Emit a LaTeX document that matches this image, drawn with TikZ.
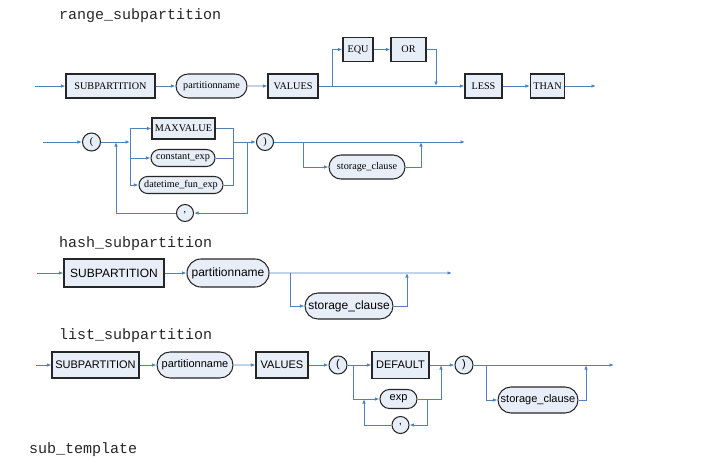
\documentclass[tikz,border=0pt]{standalone}
\usepackage{fontspec}
\setmainfont{Liberation Serif}
\newfontfamily\sansf{Liberation Sans}
\newfontfamily\monof{Liberation Mono}
\usetikzlibrary{arrows.meta,shapes.misc}
\definecolor{lnblue}{HTML}{4F81BD}
\definecolor{boxfill}{HTML}{E8EEF8}
\definecolor{boxdraw}{HTML}{262626}
\tikzset{
  base/.style={draw=boxdraw,fill=boxfill,line width=1.05pt,inner sep=0pt,text=black},
  kbox/.style={base,rectangle},
  rbox/.style={base,rounded rectangle},
  cbox/.style={base,circle},
  serifsm/.style={font=\fontsize{10.2}{12}\selectfont},
  sanshash/.style={font=\sansf\fontsize{12}{14}\selectfont},
  sanslist/.style={font=\sansf\fontsize{11}{13}\selectfont},
  ttl/.style={anchor=west,inner sep=0pt,text=black!85,font=\monof\fontsize{15}{17}\selectfont},
  ln/.style={draw=lnblue,line width=0.9pt},
  ar/.style={ln,-{Latex[length=4.5pt,width=3.5pt]}},
}
\begin{document}
\begin{tikzpicture}[x=1pt,y=-1pt]
\useasboundingbox (0,0) rectangle (709,458);

% ---------- titles
\node[ttl] (t1) at (59,16) {range\_subpartition};
\node[ttl] (t2) at (59,244) {hash\_subpartition};
\node[ttl] (t3) at (59,336) {list\_subpartition};
\node[ttl] (t4) at (29,450) {sub\_template};

% ---------- range row 1
\begin{scope}[serifsm]
\coordinate (s1) at (35,86);
\node[kbox,minimum width=89,minimum height=24] (sp1) at (110.5,86) {SUBPARTITION};
\node[rbox,minimum width=71,minimum height=24] (pn1) at (211.5,86) {partitionname};
\node[kbox,minimum width=50,minimum height=24] (val1) at (293,86) {VALUES};
\node[kbox,minimum width=30,minimum height=24] (equ) at (358,49.5) {EQU};
\node[kbox,minimum width=35,minimum height=24] (or) at (408.5,49.5) {OR};
\node[kbox,minimum width=37,minimum height=24] (less) at (483.5,86) {LESS};
\node[kbox,minimum width=34,minimum height=24] (than) at (547.5,86) {THAN};
\coordinate (e1) at (596,86);
\coordinate (b1) at (332,86);
\coordinate (m1) at (436,86);
\end{scope}
\draw[ar] (s1) -- (sp1);
\draw[ar] (sp1) -- (pn1);
\draw[ar] (pn1) -- (val1);
\draw[ar] (val1) -- (less);
\draw[ar] (b1) |- (equ);
\draw[ar] (equ) -- (or);
\draw[ar] (or.east) -| (m1);
\draw[ar] (less) -- (than);
\draw[ar] (than) -- (e1);

% ---------- range row 2
\begin{scope}[serifsm]
\coordinate (s2) at (43,142);
\node[cbox,minimum size=18] (lp1) at (91.5,142) {(};
\coordinate (j2) at (130,142);
\node[kbox,minimum width=63,minimum height=21] (maxv) at (183.5,128.5) {MAXVALUE};
\node[rbox,minimum width=64,minimum height=17] (cexp) at (183,158) {constant\_exp};
\node[rbox,minimum width=84,minimum height=17] (dexp) at (181,185) {datetime\_fun\_exp};
\coordinate (mg2) at (233,142);
\node[cbox,minimum size=17] (rp1) at (265,142) {)};
\node[cbox,minimum size=17] (cm1) at (185,213) {,};
\coordinate (lr2) at (247,142);
\coordinate (ll2) at (116,142);
\coordinate (e2) at (465,142);
\coordinate (b2) at (303,142);
\node[rbox,minimum width=76,minimum height=24] (sc1) at (367,167) {storage\_clause};
\coordinate (u2) at (421,142);
\end{scope}
\draw[ar] (s2) -- (lp1);
\draw[ar] (lp1) -- (j2);
\draw[ln] (j2 |- maxv) -- (j2 |- dexp);
\draw[ar] (j2 |- maxv) -- (maxv);
\draw[ar] (j2 |- cexp) -- (cexp);
\draw[ar] (j2 |- dexp) -- (dexp);
\draw[ln] (maxv.east) -- (mg2 |- maxv) -- (mg2 |- dexp) -- (dexp.east);
\draw[ln] (cexp.east) -- (mg2 |- cexp);
\draw[ar] (mg2) -- (rp1);
\draw[ar] (lr2) |- (cm1);
\draw[ar] (cm1) -| (ll2);
\draw[ar] (rp1) -- (e2);
\draw[ar] (b2) |- (sc1);
\draw[ar] (sc1) -| (u2);

% ---------- hash row
\begin{scope}[sanshash]
\coordinate (s3) at (37,273);
\node[kbox,minimum width=100,minimum height=28] (sp3) at (114,273) {SUBPARTITION};
\node[rbox,minimum width=82,minimum height=28] (pn3) at (228,273) {partitionname};
\coordinate (e3) at (452,273);
\coordinate (b3) at (290,273);
\node[rbox,minimum width=88,minimum height=26] (sc3) at (349,306) {storage\_clause};
\coordinate (u3) at (407,273);
\end{scope}
\draw[ar] (s3) -- (sp3);
\draw[ar] (sp3) -- (pn3);
\draw[ar] (pn3) -- (e3);
\draw[ar] (b3) |- (sc3);
\draw[ar] (sc3) -| (u3);

% ---------- list row
\begin{scope}[sanslist]
\coordinate (s4) at (36,365);
\node[kbox,minimum width=87,minimum height=26] (sp4) at (95.5,365) {SUBPARTITION};
\node[rbox,minimum width=76,minimum height=26] (pn4) at (195,365) {partitionname};
\node[kbox,minimum width=52,minimum height=26] (val4) at (282,365) {VALUES};
\node[cbox,minimum size=18] (lp4) at (338,365) {(};
\node[kbox,minimum width=57,minimum height=27] (dflt) at (400.5,365) {DEFAULT};
\node[rbox,minimum width=37,minimum height=19] (exp4) at (398.5,399) {exp};
\node[cbox,minimum size=17] (cm4) at (400.5,425) {,};
\node[cbox,minimum size=18] (rp4) at (464,365) {)};
\coordinate (b4a) at (353,365);
\coordinate (mg4) at (441,365);
\coordinate (lr4) at (427,399);
\coordinate (ll4) at (364,399);
\coordinate (e4) at (614,365);
\coordinate (b4) at (486,365);
\node[rbox,minimum width=80,minimum height=26] (sc4) at (538,400) {storage\_clause};
\coordinate (u4) at (586,365);
\end{scope}
\draw[ar] (s4) -- (sp4);
\draw[ar] (sp4) -- (pn4);
\draw[ar] (pn4) -- (val4);
\draw[ar] (val4) -- (lp4);
\draw[ar] (lp4) -- (dflt);
\draw[ar] (b4a) |- (exp4);
\draw[ln] (dflt) -- (mg4);
\draw[ar] (exp4.east) -| (mg4);
\draw[ar] (mg4) -- (rp4);
\draw[ar] (lr4) |- (cm4);
\draw[ar] (cm4) -| (ll4);
\draw[ar] (rp4) -- (e4);
\draw[ar] (b4) |- (sc4);
\draw[ar] (sc4) -| (u4);
\end{tikzpicture}
\end{document}
